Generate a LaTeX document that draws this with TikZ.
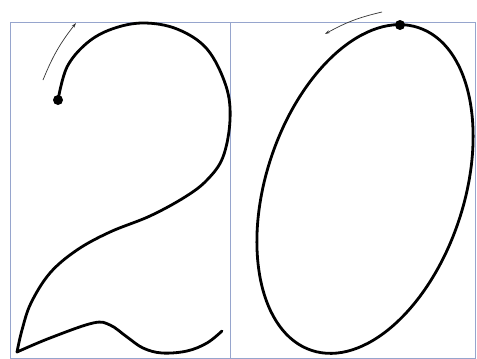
\documentclass[tikz,border=0pt]{standalone}
\usetikzlibrary{arrows.meta}
\definecolor{framec}{RGB}{150,165,205}
\tikzset{
  framebox/.style={draw=framec, line width=0.9pt},
  stroke/.style={draw=black, line width=2.8pt, line cap=round, line join=round},
  hint/.style={draw=black!80, line width=0.7pt, -{Stealth[length=5pt,width=3pt]}},
  startdot/.style={fill=black}
}
\begin{document}
\begin{tikzpicture}[x=1pt,y=-1pt]
\useasboundingbox (0,0) rectangle (477,359);
\fill[white] (0,0) rectangle (477,359);
% frames
\draw[framebox] (10,22) rectangle (475,358);
\draw[framebox] (230,22) -- (230,358);
% digit 2
\coordinate (dotA) at (58,100);
\draw[stroke] plot[smooth, tension=0.6] coordinates {
 (58,100) (67,67) (87,43) (112,29) (143,23) (177,29) (207,49) (226,86) (230,120)
 (223,157) (207,180) (185,197) (150,216) (110,232) (77,250) (50,273) (31,303) (22,330) (17,352)};
\draw[stroke] plot[smooth, tension=0.6] coordinates {
 (17,352) (50,338) (93,323) (110,325) (127,337) (143,348) (162,353) (187,351) (207,343) (222,331)};
\fill[startdot] (dotA) circle (5);
\coordinate (a1s) at (43,80);
\coordinate (a1e) at (76,23);
\draw[hint] (a1s) to[bend left=8] (a1e);
% digit 0
\coordinate (dotB) at (400,25);
\draw[stroke] (365,189) ellipse[x radius=99, y radius=170, rotate=-18.3];
\fill[startdot] (dotB) circle (5);
\coordinate (a2s) at (382,12);
\coordinate (a2e) at (325,34);
\draw[hint] (a2s) to[bend right=8] (a2e);
\end{tikzpicture}
\end{document}
